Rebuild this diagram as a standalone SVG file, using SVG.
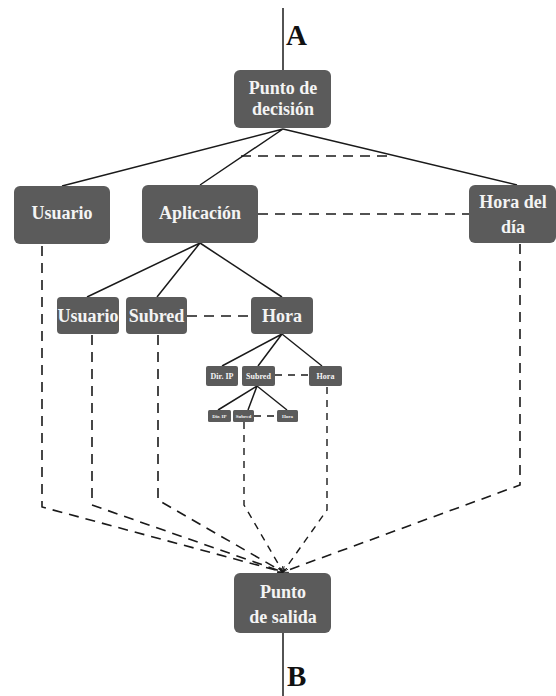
<svg xmlns="http://www.w3.org/2000/svg" width="556" height="696" viewBox="0 0 556 696">
<style>
.n{fill:#5b5b5b}
.t{font-family:"Liberation Serif","Times New Roman",serif;font-weight:bold;fill:#f4f4f4;text-anchor:middle}
.L{font-size:18px}
.s{font-size:8px}
.xs{font-size:5px}
.ab{font-family:"Liberation Serif","Times New Roman",serif;font-weight:bold;font-size:29px;fill:#111}
.sol{stroke:#1a1a1a;stroke-width:1.5;fill:none}
.d{stroke:#1a1a1a;stroke-width:1.6;fill:none;stroke-dasharray:10 7}
.ds{stroke:#1a1a1a;stroke-width:1.4;fill:none;stroke-dasharray:7 6}
</style>
<defs>
<marker id="ah" viewBox="0 0 10 10" refX="9" refY="5" markerWidth="6" markerHeight="6" orient="auto" markerUnits="userSpaceOnUse">
<path d="M0,1 L10,5 L0,9" fill="none" stroke="#1a1a1a" stroke-width="1.5"/>
</marker>
</defs>
<g id="connectors">
<line class="sol" x1="283" y1="8" x2="283" y2="70"/>
<line class="sol" x1="283" y1="633" x2="283" y2="696"/>
<polyline class="sol" points="62,186 283,129 200,185"/>
<line class="sol" x1="283" y1="129" x2="517" y2="185"/>
<line class="d" x1="241" y1="156" x2="392" y2="156"/>
<line class="d" x1="258" y1="214" x2="469" y2="214"/>
<polyline class="sol" points="87,297 200,243 157,297"/>
<line class="sol" x1="200" y1="243" x2="282" y2="297"/>
<line class="d" x1="187" y1="316" x2="251" y2="316"/>
<polyline class="sol" points="222,366 282,334 258,366"/>
<line class="sol" x1="282" y1="334" x2="322" y2="366"/>
<line class="ds" x1="275" y1="375" x2="309" y2="375"/>
<polyline class="sol" points="218,410 257,386 248,410"/>
<line class="sol" x1="257" y1="386" x2="287" y2="410"/>
<line class="ds" x1="254" y1="416" x2="277" y2="416"/>
<polyline class="d" points="42,246 42,507 283,572" marker-end="url(#ah)"/>
<polyline class="d" points="92,335 92,505 283,572" marker-end="url(#ah)"/>
<polyline class="d" points="158,335 158,500 283,572" marker-end="url(#ah)"/>
<polyline class="ds" points="244,422 244,505 283,572" marker-end="url(#ah)"/>
<polyline class="ds" points="327,387 327,510 283,572" marker-end="url(#ah)"/>
<polyline class="d" points="520,244 520,485 283,572" marker-end="url(#ah)"/>
</g>
<text class="ab" x="286" y="45">A</text>
<text class="ab" x="287" y="686">B</text>
<g id="punto-decision">
<rect class="n" x="234" y="70" width="97" height="58" rx="6"/>
<text class="t L" x="283" y="94">Punto de</text>
<text class="t L" x="283" y="115">decisión</text>
</g>
<g id="usuario">
<rect class="n" x="14" y="186" width="96" height="58" rx="6"/>
<text class="t L" x="62" y="219">Usuario</text>
</g>
<g id="aplicacion">
<rect class="n" x="142" y="185" width="116" height="58" rx="6"/>
<text class="t L" x="200" y="219">Aplicación</text>
</g>
<g id="hora-del-dia">
<rect class="n" x="469" y="185" width="87" height="58" rx="6"/>
<text class="t L" x="513" y="208">Hora del</text>
<text class="t L" x="513" y="233">día</text>
</g>
<g id="usuario2">
<rect class="n" x="57" y="297" width="62" height="37" rx="4"/>
<text class="t L" x="88" y="322">Usuario</text>
</g>
<g id="subred">
<rect class="n" x="126" y="297" width="61" height="37" rx="4"/>
<text class="t L" x="156.500" y="322">Subred</text>
</g>
<g id="hora">
<rect class="n" x="251" y="297" width="62" height="37" rx="4"/>
<text class="t L" x="282" y="322">Hora</text>
</g>
<g id="dirip2">
<rect class="n" x="206" y="366" width="32" height="20" rx="2"/>
<text class="t s" x="222" y="379">Dir. IP</text>
</g>
<g id="subred2">
<rect class="n" x="242" y="366" width="33" height="20" rx="2"/>
<text class="t s" x="258.500" y="379">Subred</text>
</g>
<g id="hora2">
<rect class="n" x="309" y="366" width="33" height="20" rx="2"/>
<text class="t s" x="325.500" y="379">Hora</text>
</g>
<g id="dirip3">
<rect class="n" x="208" y="410" width="23" height="12" rx="1.500"/>
<text class="t xs" x="219.500" y="418">Dir. IP</text>
</g>
<g id="subred3">
<rect class="n" x="233" y="410" width="21" height="12" rx="1.500"/>
<text class="t xs" x="243.500" y="418">Subred</text>
</g>
<g id="hora3">
<rect class="n" x="277" y="410" width="21" height="12" rx="1.500"/>
<text class="t xs" x="287.500" y="418">Hora</text>
</g>
<g id="punto-salida">
<rect class="n" x="234" y="573" width="97" height="60" rx="6"/>
<text class="t L" x="283" y="598">Punto</text>
<text class="t L" x="283" y="623">de salida</text>
</g>
</svg>
